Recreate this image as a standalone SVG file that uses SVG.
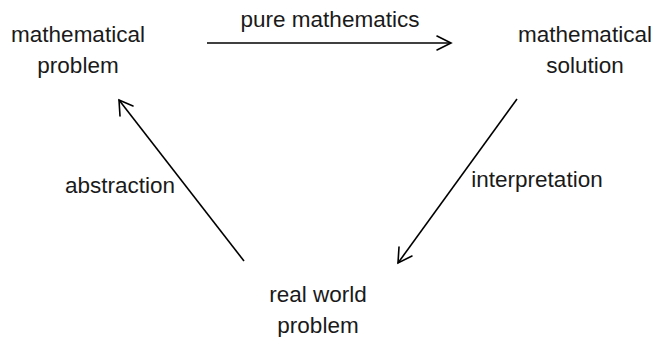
<svg xmlns="http://www.w3.org/2000/svg" width="652" height="337" viewBox="0 0 652 337">
<style>
text{font-family:"Liberation Sans",Arial,sans-serif;font-size:22.5px;fill:#1a1a1a;text-anchor:middle}
.c line{stroke:#000;stroke-width:1.6;fill:none}
.h{stroke:#000;stroke-width:1.6;fill:none;stroke-linecap:round}
</style>
<rect width="652" height="337" fill="#fff"/>
<g id="n1"><text x="78" y="42">mathematical</text><text x="78" y="73">problem</text></g>
<g id="n2"><text x="585" y="42">mathematical</text><text x="585" y="73">solution</text></g>
<g id="n3"><text x="318" y="302">real world</text><text x="318" y="333">problem</text></g>
<g id="connectors" class="c">
<line x1="207" y1="43" x2="451" y2="43"/>
<path class="h" d="M437,36 L451,43 L437,50"/>
<line x1="244" y1="261" x2="119" y2="100"/>
<path class="h" d="M120,116 L119,100 L133,106"/>
<line x1="517" y1="99" x2="398" y2="263"/>
<path class="h" d="M399,247 L398,263 L412,256"/>
<text x="330" y="27">pure mathematics</text>
<text x="120" y="193">abstraction</text>
<text x="537" y="187">interpretation</text>
</g>
</svg>
